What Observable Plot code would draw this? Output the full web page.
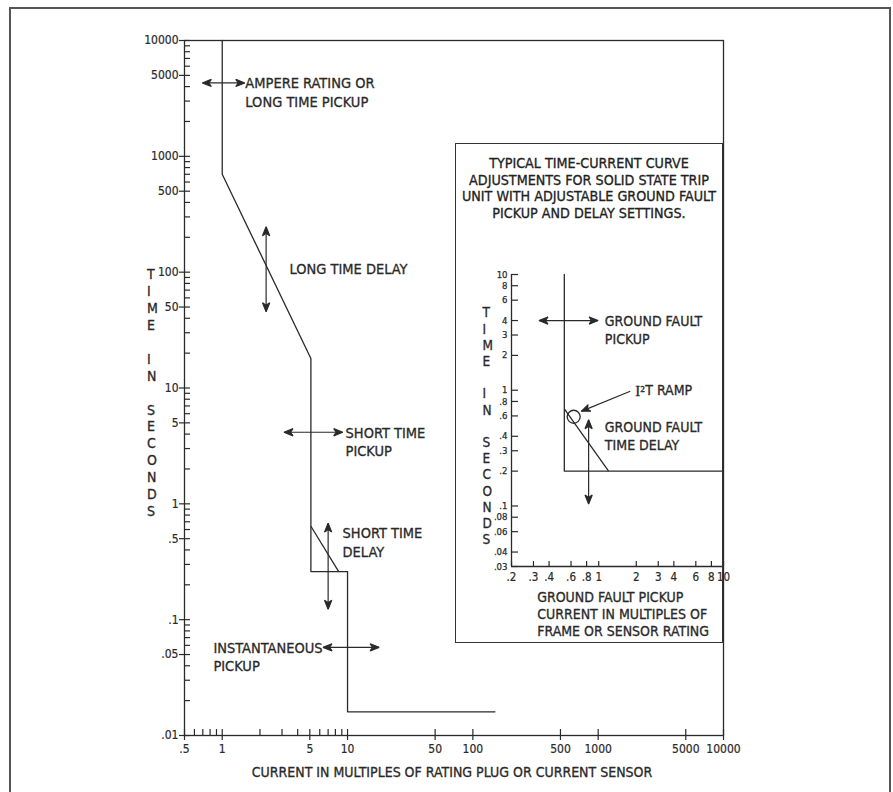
<!DOCTYPE html>
<html>
<head>
<meta charset="utf-8">
<script src="https://cdn.jsdelivr.net/npm/d3@7"></script>
<script src="https://cdn.jsdelivr.net/npm/@observablehq/plot@0.6"></script>
<style>
  body { margin: 0; background: #fff; }
  #wrap { position: relative; width: 893px; height: 792px; overflow: hidden; background: #fff;
    font-family: "Liberation Sans Narrow", "Arial Narrow", "DejaVu Sans Condensed", sans-serif; color: #222; }
  #main { position: absolute; left: 0; top: 0; }
  #border { position: absolute; left: 9px; top: 7px; width: 882px; height: 820px; border: 2px solid #555; box-sizing: border-box; pointer-events: none; }
  #inset { position: absolute; left: 455px; top: 143px; width: 268px; height: 500px; background: #fff; }
  #inset-svg { position: absolute; left: 0; top: 0; }
  #inset-border { position: absolute; left: 0; top: 0; width: 268px; height: 500px; border: 1.6px solid #333; box-sizing: border-box; pointer-events: none; }
  #inset-title { position: absolute; left: 0; top: 12px; width: 268px; text-align: center; font-size: 14.2px; line-height: 16.7px; color: #222; -webkit-text-stroke: 0.3px #222; }
  svg { overflow: visible; }
</style>
</head>
<body>
<div id="wrap">
  <div id="main"></div>
  <div id="inset">
    <div id="inset-svg"></div>
    <div id="inset-title"></div>
    <div id="inset-border"></div>
  </div>
  <div id="border"></div>
</div>
<script>
// ---------- Main chart data ----------
const mainYTicks = [0.01, 0.05, 0.1, 0.5, 1, 5, 10, 50, 100, 500, 1000, 5000, 10000];
const mainYDecades = [0.01, 0.1, 1, 10, 100, 1000];
const minorMultipliers = [2, 3, 4, 6, 7, 8, 9];
const mainXTicks = [0.5, 1, 5, 10, 50, 100, 500, 1000, 5000, 10000];
const mainXMinor = [0.6, 0.7, 0.8, 0.9, 2, 3, 4, 6, 7, 8, 9];

// Trip curve (current multiples, seconds)
const curveX = [1, 1, 5.1, 5.1, 10, 10, 150];
const curveY = [10000, 700, 18, 0.26, 0.26, 0.016, 0.016];
// Short time I2t ramp
const rampX = [5.1, 8.5];
const rampY = [0.64, 0.26];

// Double-headed adjustment arrows
const arrowX1 = [0.7, 2.24, 3.14, 7.0, 6.43];
const arrowX2 = [1.5, 2.24, 9.07, 7.0, 17.7];
const arrowY1 = [4300, 244, 4.15, 0.675, 0.0577];
const arrowY2 = [4300, 46, 4.15, 0.124, 0.0577];

// Annotation labels
const noteText = ["AMPERE RATING OR\nLONG TIME PICKUP", "LONG TIME DELAY", "SHORT TIME\nPICKUP", "SHORT TIME\nDELAY", "INSTANTANEOUS\nPICKUP"];
const noteX = [1.53, 3.44, 9.64, 9.12, 0.85];
const noteY = [4300, 108, 4.15, 0.565, 0.0577];

const yLabelMain = "T\nI\nM\nE\n\nI\nN\n\nS\nE\nC\nO\nN\nD\nS";
const xLabelMain = "CURRENT IN MULTIPLES OF RATING PLUG OR CURRENT SENSOR";

// ---------- Inset data ----------
const insetTitle = ["TYPICAL TIME-CURRENT CURVE", "ADJUSTMENTS FOR SOLID STATE TRIP", "UNIT WITH ADJUSTABLE GROUND FAULT", "PICKUP AND DELAY SETTINGS."];
const insetYTicks = [0.03, 0.04, 0.06, 0.08, 0.1, 0.2, 0.3, 0.4, 0.6, 0.8, 1, 2, 3, 4, 6, 8, 10];
const insetXTicks = [0.2, 0.3, 0.4, 0.6, 0.8, 1, 2, 3, 4, 6, 8, 10];

const gfCurveX = [0.53, 0.53, 10];
const gfCurveY = [10, 0.2, 0.2];
const gfRampX = [0.53, 1.2];
const gfRampY = [0.69, 0.2];
const gfCircleX = [0.63];
const gfCircleY = [0.59];

const gfArrowX1 = [0.335, 0.83];
const gfArrowX2 = [0.98, 0.83];
const gfArrowY1 = [4, 0.55];
const gfArrowY2 = [4, 0.105];

const i2tArrowX = [1.79, 0.73];
const i2tArrowY = [0.98, 0.66];

const gfText = ["GROUND FAULT\nPICKUP", "GROUND FAULT\nTIME DELAY"];
const gfTextX = [1.12, 1.12];
const gfTextY = [4.0, 0.485];
const i2tTextX = [1.96];
const i2tTextY = [0.99];

const yLabelInset = "T\nI\nM\nE\n\nI\nN\n\nS\nE\nC\nO\nN\nD\nS";
const xLabelInset = "GROUND FAULT PICKUP\nCURRENT IN MULTIPLES OF\nFRAME OR SENSOR RATING";

// ---------- Helpers ----------
const INK = "#2a2a2a";
const FONT = '"Liberation Sans Narrow", "Arial Narrow", "DejaVu Sans Condensed", sans-serif';
const fmt = d => String(d).replace(/^0\./, ".");
const heavy = {fill: INK, stroke: INK, strokeWidth: 0.3, paintOrder: "fill"};

function head(color) {
  const ns = "http://www.w3.org/2000/svg";
  const m = document.createElementNS(ns, "marker");
  m.setAttribute("viewBox", "-10 -4.5 11 9");
  m.setAttribute("markerUnits", "userSpaceOnUse");
  m.setAttribute("markerWidth", 11);
  m.setAttribute("markerHeight", 9);
  m.setAttribute("orient", "auto-start-reverse");
  m.setAttribute("overflow", "visible");
  const p = document.createElementNS(ns, "path");
  p.setAttribute("d", "M0.5,0L-8.5,-3.6L-6,0L-8.5,3.6Z");
  p.setAttribute("fill", color);
  m.appendChild(p);
  return m;
}

const curve = curveX.map((x, i) => ({x, y: curveY[i]}));
const ramp = [{x1: rampX[0], y1: rampY[0], x2: rampX[1], y2: rampY[1]}];
const arrows = arrowX1.map((x1, i) => ({x1, x2: arrowX2[i], y1: arrowY1[i], y2: arrowY2[i]}));
const notes = noteText.map((t, i) => ({t, x: noteX[i], y: noteY[i]}));
const yMinorAll = mainYDecades.flatMap(d => minorMultipliers.map(m => +(d * m).toPrecision(3)));
const yTicksAll = mainYTicks.concat(yMinorAll);
const xTicksAll = mainXTicks.concat(mainXMinor);

const mainPlot = Plot.plot({
  width: 893, height: 792,
  marginLeft: 184, marginRight: 170, marginTop: 40, marginBottom: 57,
  x: {type: "log", domain: [0.5, 10000], label: null},
  y: {type: "log", domain: [0.01, 10000], label: null},
  style: {fontFamily: FONT, color: INK, background: "transparent", overflow: "visible"},
  marks: [
    Plot.frame({stroke: INK, strokeWidth: 1.3}),
    Plot.axisY(mainYTicks, {tickSize: 5, text: null, stroke: INK, strokeWidth: 1.2}),
    Plot.axisY(yTicksAll, {tickSize: -6, text: null, stroke: INK, strokeWidth: 1.2}),
    Plot.axisX(mainXTicks, {tickSize: 5, text: null, stroke: INK, strokeWidth: 1.2}),
    Plot.axisX(xTicksAll, {tickSize: -6, text: null, stroke: INK, strokeWidth: 1.2}),
    Plot.text(mainYTicks, {y: d => d, text: fmt, frameAnchor: "left", textAnchor: "end", dx: -6, fontSize: 12, ...heavy, strokeWidth: 0.2}),
    Plot.text(mainXTicks, {x: d => d, text: fmt, frameAnchor: "bottom", lineAnchor: "top", dy: 8.5, fontSize: 12, ...heavy, strokeWidth: 0.2}),
    Plot.line(curve, {x: "x", y: "y", stroke: INK, strokeWidth: 1.3}),
    Plot.link(ramp, {x1: "x1", y1: "y1", x2: "x2", y2: "y2", stroke: INK, strokeWidth: 1.3}),
    Plot.link(arrows, {x1: "x1", y1: "y1", x2: "x2", y2: "y2", stroke: INK, strokeWidth: 1.2, markerStart: head, markerEnd: head}),
    Plot.text(notes, {x: "x", y: "y", text: "t", textAnchor: "start", lineAnchor: "top", dy: -8, lineHeight: 1.29, fontSize: 14.5, ...heavy}),
    Plot.text([yLabelMain], {text: d => d, frameAnchor: "left", dx: -37.5, dy: 4.2, lineHeight: 1.21, fontSize: 14, ...heavy}),
    Plot.text([xLabelMain], {text: d => d, frameAnchor: "bottom", dx: -2, dy: 41.5, fontSize: 14, ...heavy})
  ]
});
document.getElementById("main").appendChild(mainPlot);

// ---------- Inset ----------
document.getElementById("inset-title").innerHTML = insetTitle.join("<br>");

const gfCurve = gfCurveX.map((x, i) => ({x, y: gfCurveY[i]}));
const gfRamp = [{x1: gfRampX[0], y1: gfRampY[0], x2: gfRampX[1], y2: gfRampY[1]}];
const gfArrows = gfArrowX1.map((x1, i) => ({x1, x2: gfArrowX2[i], y1: gfArrowY1[i], y2: gfArrowY2[i]}));
const i2tArrow = [{x1: i2tArrowX[0], y1: i2tArrowY[0], x2: i2tArrowX[1], y2: i2tArrowY[1]}];
const gfNotes = gfText.map((t, i) => ({t, x: gfTextX[i], y: gfTextY[i]}));
const circle = gfCircleX.map((x, i) => ({x, y: gfCircleY[i]}));
const i2tPos = i2tTextX.map((x, i) => ({x, y: i2tTextY[i]}));

const insetPlot = Plot.plot({
  width: 268, height: 500,
  marginLeft: 56, marginRight: 0, marginTop: 131, marginBottom: 77,
  x: {type: "log", domain: [0.2, 10], label: null},
  y: {type: "log", domain: [0.03, 10], label: null},
  style: {fontFamily: FONT, color: INK, background: "transparent", overflow: "visible"},
  marks: [
    Plot.ruleX([0.2], {stroke: INK, strokeWidth: 1.3}),
    Plot.ruleY([0.03], {stroke: INK, strokeWidth: 1.3}),
    Plot.axisY(insetYTicks, {tickSize: -7, text: null, stroke: INK, strokeWidth: 1.2}),
    Plot.axisX(insetXTicks, {tickSize: -5, text: null, stroke: INK, strokeWidth: 1.2}),
    Plot.text(insetYTicks, {y: d => d, text: fmt, frameAnchor: "left", textAnchor: "end", dx: -4, fontSize: 9.5, ...heavy, strokeWidth: 0.25}),
    Plot.text(insetXTicks, {x: d => d, text: fmt, frameAnchor: "bottom", lineAnchor: "top", dy: 6.5, fontSize: 11.5, ...heavy, strokeWidth: 0.2}),
    Plot.line(gfCurve, {x: "x", y: "y", stroke: INK, strokeWidth: 1.3}),
    Plot.link(gfRamp, {x1: "x1", y1: "y1", x2: "x2", y2: "y2", stroke: INK, strokeWidth: 1.3}),
    Plot.dot(circle, {x: "x", y: "y", r: 6.5, stroke: INK, strokeWidth: 1.3, fill: "none"}),
    Plot.link(gfArrows, {x1: "x1", y1: "y1", x2: "x2", y2: "y2", stroke: INK, strokeWidth: 1.2, markerStart: head, markerEnd: head}),
    Plot.link(i2tArrow, {x1: "x1", y1: "y1", x2: "x2", y2: "y2", stroke: INK, strokeWidth: 1.1, markerEnd: head}),
    Plot.text(gfNotes, {x: "x", y: "y", text: "t", textAnchor: "start", lineAnchor: "top", dy: -7.7, lineHeight: 1.286, fontSize: 14, ...heavy}),
    Plot.text(i2tPos, {x: "x", y: "y", text: () => "I²", textAnchor: "start", fontFamily: '"Liberation Serif", "DejaVu Serif", serif', fontSize: 15, ...heavy}),
    Plot.text(i2tPos, {x: "x", y: "y", text: () => "T RAMP", textAnchor: "start", dx: 10, fontSize: 14, ...heavy}),
    Plot.text([yLabelInset], {text: d => d, frameAnchor: "left", dx: -29, dy: 5.2, lineHeight: 1.2, fontSize: 13.5, ...heavy}),
    Plot.text([xLabelInset], {text: d => d, frameAnchor: "bottom-left", dx: 25.7, dy: 24, lineAnchor: "top", textAnchor: "start", lineHeight: 1.19, fontSize: 14, ...heavy})
  ]
});
document.getElementById("inset-svg").appendChild(insetPlot);
</script>
</body>
</html>
